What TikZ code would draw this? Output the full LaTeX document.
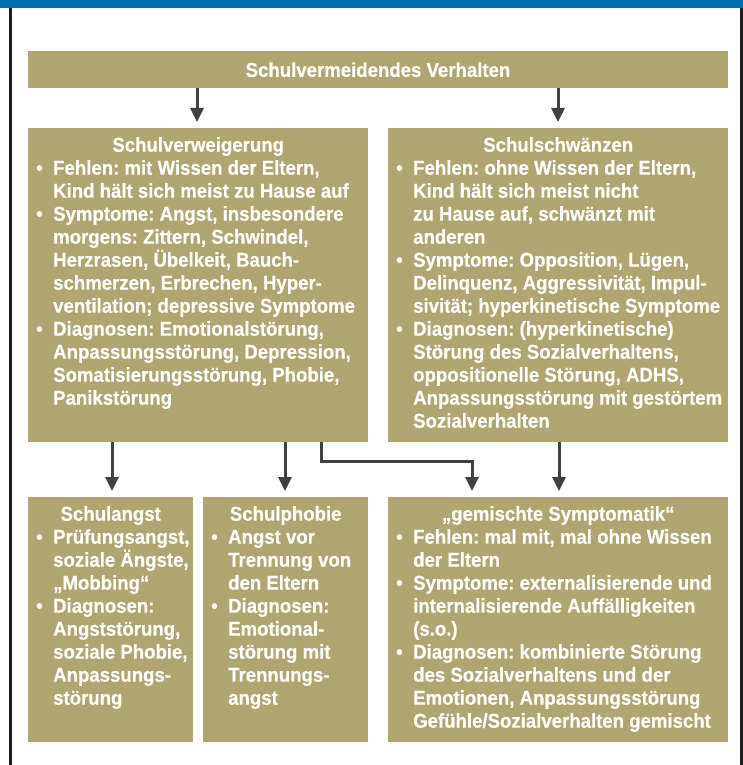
\documentclass[tikz,border=0pt]{standalone}
\usepackage{fontspec}
\setmainfont{Liberation Sans}[FakeStretch=0.93,FakeBold=0.4]
\usetikzlibrary{arrows.meta}

\definecolor{khaki}{RGB}{176,165,112}
\definecolor{kopfblau}{RGB}{0,112,176}
\definecolor{pfeilgrau}{RGB}{64,64,64}
\definecolor{rahmengrau}{RGB}{30,30,30}

\tikzset{
  kasten/.style={fill=khaki, text=white, anchor=north west, inner sep=0pt,
    font=\bfseries\fontsize{20}{23}\selectfont},
  pfeil/.style={draw=pfeilgrau, line width=3pt, shorten >=6pt,
    -{Triangle[length=14pt,width=13pt]}},
  rahmen/.style={draw=rahmengrau, line width=3pt}
}

% Kasteninhalt: Breite, Hoehe, Text
\newcommand{\inhalt}[3]{\parbox[t][#2][t]{#1}{\let\\\newline\frenchspacing
  \leftskip=6pt\rightskip=0pt plus 1fil minus 12pt\parfillskip=0pt plus 1fil
  \vspace*{9pt}#3}}
\newcommand{\titel}[1]{{\centering #1\par}}
\newcommand{\punkt}{\par\hangindent=19pt\hangafter=1\noindent\makebox[19pt][l]{\hspace{2pt}•}}

\begin{document}
\begin{tikzpicture}[x=1pt,y=-1pt]
  \useasboundingbox (0,0) rectangle (743,765);
  \fill[kopfblau] (0,0) rectangle (743,8);
  \draw[rahmen] (10,8) -- (10,765) (741,8) -- (741,765);

  \node[kasten, anchor=north, minimum width=700pt, minimum height=37pt] (oben) at (378,51)
    {Schulvermeidendes Verhalten};

  \node[kasten] (verweig) at (28,128) {\inhalt{340pt}{314pt}{%
    \titel{Schulverweigerung}
    \punkt Fehlen: mit Wissen der Eltern,\\Kind hält sich meist zu Hause auf
    \punkt Symptome: Angst, insbesondere\\morgens: Zittern, Schwindel,\\Herzrasen, Übelkeit, Bauch-\\schmerzen, Erbrechen, Hyper-\\ventilation; depressive Symptome
    \punkt Diagnosen: Emotionalstörung,\\Anpassungsstörung, Depression,\\Somatisierungsstörung, Phobie,\\Panikstörung}};

  \node[kasten] (schwaenz) at (388,128) {\inhalt{340pt}{314pt}{%
    \titel{Schulschwänzen}
    \punkt Fehlen: ohne Wissen der Eltern,\\Kind hält sich meist nicht\\zu Hause auf, schwänzt mit\\anderen
    \punkt Symptome: Opposition, Lügen,\\Delinquenz, Aggressivität, Impul-\\sivität; hyperkinetische Symptome
    \punkt Diagnosen: (hyperkinetische)\\Störung des Sozialverhaltens,\\oppositionelle Störung, ADHS,\\Anpassungsstörung mit gestörtem\\Sozialverhalten}};

  \node[kasten] (angst) at (28,497) {\inhalt{165pt}{245pt}{%
    \titel{Schulangst}
    \punkt Prüfungsangst,\\soziale Ängste,\\„Mobbing“
    \punkt Diagnosen:\\Angststörung,\\soziale Phobie,\\Anpassungs-\\störung}};

  \node[kasten] (phobie) at (203,497) {\inhalt{165pt}{245pt}{%
    \titel{Schulphobie}
    \punkt Angst vor\\Trennung von\\den Eltern
    \punkt Diagnosen:\\Emotional-\\störung mit\\Trennungs-\\angst}};

  \node[kasten] (gemischt) at (388,497) {\inhalt{340pt}{245pt}{%
    \titel{„gemischte Symptomatik“}
    \punkt Fehlen: mal mit, mal ohne Wissen\\der Eltern
    \punkt Symptome: externalisierende und\\internalisierende Auffälligkeiten\\(s.o.)
    \punkt Diagnosen: kombinierte Störung\\des Sozialverhaltens und der\\Emotionen, Anpassungsstörung\\Gefühle/Sozialverhalten gemischt}};

  \foreach \x/\von/\nach in {197/oben/verweig, 558/oben/schwaenz, 112/verweig/angst,
                             285/verweig/phobie, 559/schwaenz/gemischt} {
    \draw[pfeil] (\von.south -| \x,0) -- (\nach.north -| \x,0);
  };
  \coordinate (knick) at (472,461);
  \draw[pfeil] (verweig.south -| 321,0) |- (knick) -- (gemischt.north -| knick);
\end{tikzpicture}
\end{document}
